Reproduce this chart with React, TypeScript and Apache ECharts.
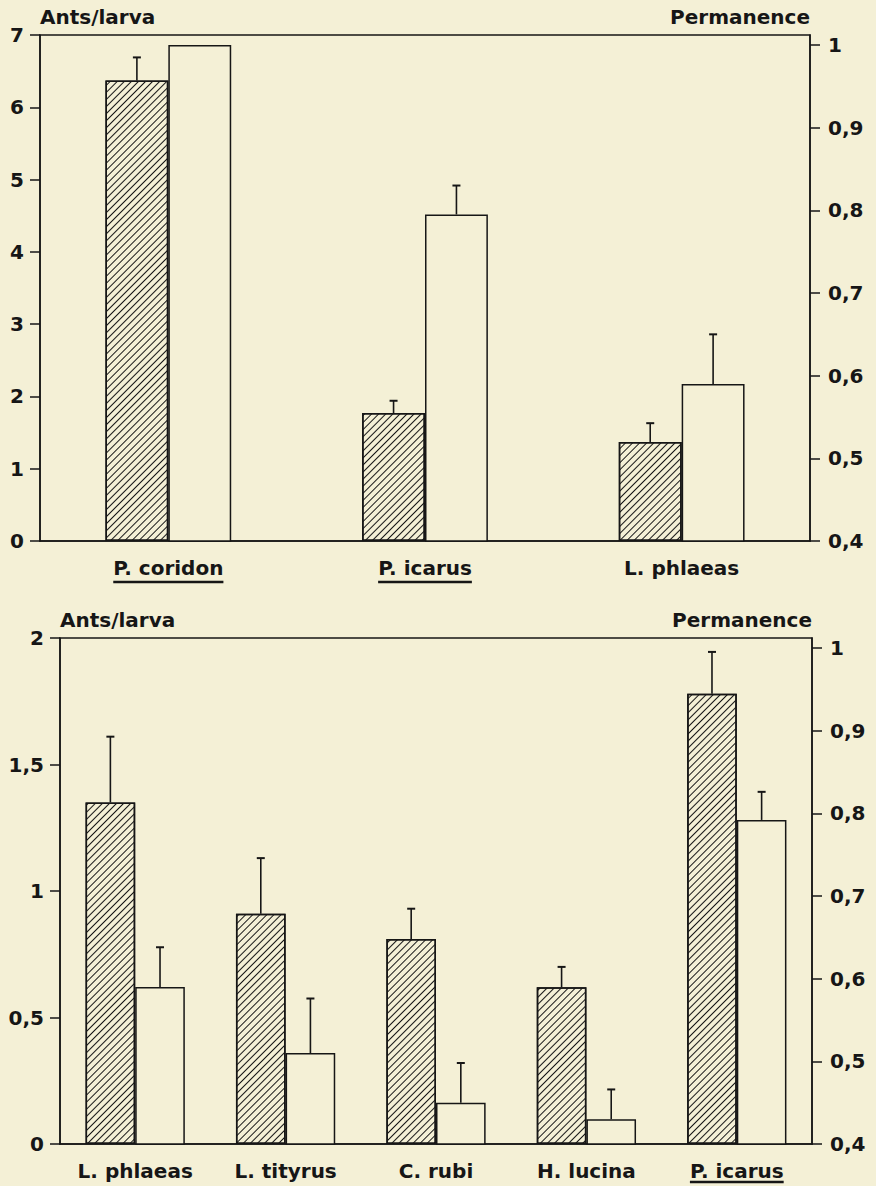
import React, { useEffect, useRef } from 'react';
import * as echarts from 'echarts';

// ---------- data ----------
const topCategories = ['P. coridon', 'P. icarus', 'L. phlaeas'];
const topAnts = [6.37, 1.77, 1.37];
const topAntsErr = [0.32, 0.17, 0.26];
const topPerm = [1.0, 0.795, 0.59];
const topPermErr = [0, 0.035, 0.06];
const topUnderlined = ['P. coridon', 'P. icarus'];

const bottomCategories = ['L. phlaeas', 'L. tityrus', 'C. rubi', 'H. lucina', 'P. icarus'];
const bottomAnts = [1.35, 0.91, 0.81, 0.62, 1.78];
const bottomAntsErr = [0.26, 0.22, 0.12, 0.08, 0.165];
const bottomPerm = [0.59, 0.51, 0.45, 0.43, 0.792];
const bottomPermErr = [0.048, 0.066, 0.048, 0.036, 0.034];
const bottomUnderlined = ['P. icarus'];

const rightTicks = [0.4, 0.5, 0.6, 0.7, 0.8, 0.9, 1.0];

// ---------- style ----------
const BG = '#f4f0d6';
const INK = '#161616';
const FONT = '"DejaVu Sans", sans-serif';

const G1 = { left: 40, top: 35, width: 770, height: 506 };
const G2 = { left: 60, top: 638, width: 752, height: 506 };
const RIGHT_MAX = 1.0121;

const comma = (v: number) => String(Math.round(v * 10) / 10).replace('.', ',');

const hatch = {
  symbol: 'rect',
  symbolSize: 1,
  color: INK,
  backgroundColor: BG,
  dashArrayX: [1, 0],
  dashArrayY: [1, 3.8],
  rotation: -Math.PI / 4,
};

function errRender(sign: number, frac: number) {
  return (params: any, api: any) => {
    const idx = api.value(0);
    const v = api.value(1);
    const e = api.value(2);
    if (!e) return null;
    const bw = api.size([1, 0])[0] * frac;
    const p0 = api.coord([idx, v]);
    const p1 = api.coord([idx, v + e]);
    const x = p0[0] + (sign * bw) / 2;
    return {
      type: 'group',
      children: [
        { type: 'line', shape: { x1: x, y1: p0[1], x2: x, y2: p1[1] }, style: { stroke: INK, lineWidth: 1.6 } },
        { type: 'line', shape: { x1: x - 4, y1: p1[1], x2: x + 4, y2: p1[1] }, style: { stroke: INK, lineWidth: 2 } },
      ],
    };
  };
}

const labelStyle = { fontFamily: FONT, fontSize: 20, fontWeight: 'bold', color: INK };

function leftAxis(gridIndex: number, max: number, interval: number) {
  return {
    type: 'value',
    gridIndex,
    position: 'left',
    min: 0,
    max,
    interval,
    name: 'Ants/larva',
    nameLocation: 'end',
    nameGap: 18,
    nameTextStyle: { ...labelStyle, align: 'left', verticalAlign: 'middle' },
    axisLine: { show: true, lineStyle: { color: INK, width: 1.5 } },
    axisTick: { show: true, length: 10, lineStyle: { color: INK, width: 1.5 } },
    axisLabel: { ...labelStyle, margin: 16, formatter: (v: number) => comma(v) },
    splitLine: { show: false },
  };
}

function rightAxis(gridIndex: number) {
  return {
    type: 'value',
    gridIndex,
    position: 'right',
    min: 0.4,
    max: RIGHT_MAX,
    name: 'Permanence',
    nameLocation: 'end',
    nameGap: 18,
    nameTextStyle: { ...labelStyle, align: 'right', verticalAlign: 'middle' },
    axisLine: { show: true, lineStyle: { color: INK, width: 1.5 } },
    axisTick: { show: true, length: 10, customValues: rightTicks, lineStyle: { color: INK, width: 1.5 } },
    axisLabel: { ...labelStyle, margin: 18, customValues: rightTicks, formatter: (v: number) => comma(v) },
    splitLine: { show: false },
  };
}

function catAxis(gridIndex: number, data: string[]) {
  return {
    type: 'category',
    gridIndex,
    data,
    axisTick: { show: false },
    axisLine: { show: true, lineStyle: { color: INK, width: 1.5 } },
    axisLabel: { ...labelStyle, margin: 17, interval: 0 },
  };
}

const gridStyle = { show: true, borderColor: INK, borderWidth: 1.5, backgroundColor: 'transparent' };

export default function App() {
  const ref = useRef<HTMLDivElement>(null);
  useEffect(() => {
    document.body.style.margin = '0';
    document.body.style.background = BG;
    const chart = echarts.init(ref.current!, undefined, { renderer: 'svg' });
    const topFrac = 0.245;
    const botFrac = 0.33;
    chart.setOption({
      animation: false,
      backgroundColor: BG,
      grid: [
        { ...G1, ...gridStyle },
        { ...G2, ...gridStyle },
      ],
      xAxis: [catAxis(0, topCategories), catAxis(1, bottomCategories)],
      yAxis: [leftAxis(0, 7, 1), rightAxis(0), leftAxis(1, 2, 0.5), rightAxis(1)],
      series: [
        {
          type: 'bar', xAxisIndex: 0, yAxisIndex: 0, data: topAnts,
          barWidth: topFrac * 100 + '%', barGap: '0%',
          itemStyle: { color: BG, borderColor: INK, borderWidth: 1.5, decal: hatch },
        },
        {
          type: 'bar', xAxisIndex: 0, yAxisIndex: 1, data: topPerm,
          barWidth: topFrac * 100 + '%', barGap: '0%',
          itemStyle: { color: BG, borderColor: INK, borderWidth: 1.5 },
        },
        {
          type: 'custom', xAxisIndex: 0, yAxisIndex: 0, z: 5,
          data: topAnts.map((v, i) => [i, v, topAntsErr[i]]),
          encode: { x: 0, y: 1 },
          renderItem: errRender(-1, topFrac),
        },
        {
          type: 'custom', xAxisIndex: 0, yAxisIndex: 1, z: 5,
          data: topPerm.map((v, i) => [i, v, topPermErr[i]]),
          encode: { x: 0, y: 1 },
          renderItem: errRender(1, topFrac),
        },
        {
          type: 'bar', xAxisIndex: 1, yAxisIndex: 2, data: bottomAnts,
          barWidth: botFrac * 100 + '%', barGap: '0%',
          itemStyle: { color: BG, borderColor: INK, borderWidth: 1.5, decal: hatch },
        },
        {
          type: 'bar', xAxisIndex: 1, yAxisIndex: 3, data: bottomPerm,
          barWidth: botFrac * 100 + '%', barGap: '0%',
          itemStyle: { color: BG, borderColor: INK, borderWidth: 1.5 },
        },
        {
          type: 'custom', xAxisIndex: 1, yAxisIndex: 2, z: 5,
          data: bottomAnts.map((v, i) => [i, v, bottomAntsErr[i]]),
          encode: { x: 0, y: 1 },
          renderItem: errRender(-1, botFrac),
        },
        {
          type: 'custom', xAxisIndex: 1, yAxisIndex: 3, z: 5,
          data: bottomPerm.map((v, i) => [i, v, bottomPermErr[i]]),
          encode: { x: 0, y: 1 },
          renderItem: errRender(1, botFrac),
        },
      ],
    });

    // underlines below selected category labels
    const ctx = document.createElement('canvas').getContext('2d')!;
    ctx.font = 'bold 20px "DejaVu Sans"';
    const lines: any[] = [];
    const addLines = (names: string[], axisIndex: number, y: number) => {
      names.forEach((name) => {
        const x = chart.convertToPixel({ xAxisIndex: axisIndex }, name) as number;
        const w = ctx.measureText(name).width;
        lines.push({
          type: 'line',
          shape: { x1: x - w / 2, y1: y, x2: x + w / 2, y2: y },
          style: { stroke: INK, lineWidth: 2.5 },
        });
      });
    };
    addLines(topUnderlined, 0, G1.top + G1.height + 41);
    addLines(bottomUnderlined, 1, G2.top + G2.height + 38);
    chart.setOption({ graphic: lines });

    return () => chart.dispose();
  }, []);
  return <div ref={ref} style={{ width: 876, height: 1186, background: BG }} />;
}
